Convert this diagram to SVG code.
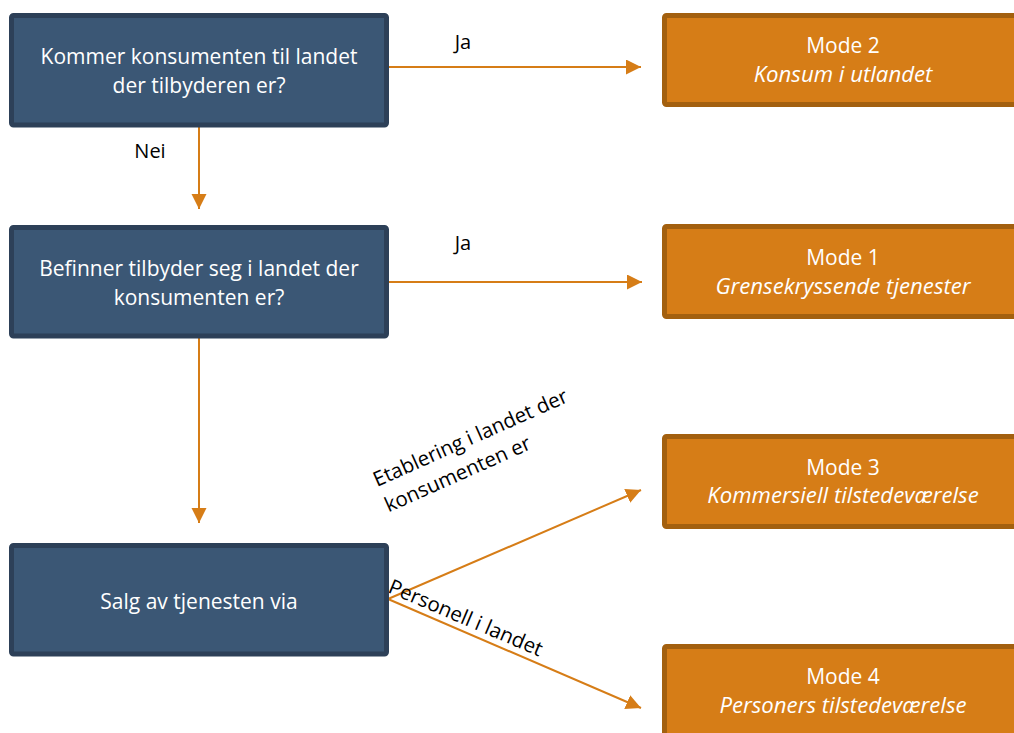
<svg xmlns="http://www.w3.org/2000/svg" width="1014" height="733" viewBox="0 0 1014 733">
<defs>
<style>
.q rect{fill:#3b5775;stroke:#2d4058;stroke-width:5}
.m rect{fill:#d67d17;stroke:#a3600f;stroke-width:5}
.q text,.m text{fill:#ffffff;font-family:"Open Sans","Liberation Sans",sans-serif;font-size:21px;text-anchor:middle}
.m .it{font-style:italic;font-size:22.2px}
.lbl{fill:#000000;font-family:"Open Sans","Liberation Sans",sans-serif;font-size:20px}
.dl{font-size:20.5px}
.c line{stroke:#d67d17;stroke-width:2;fill:none;marker-end:url(#ah)}
</style>
<marker id="ah" markerUnits="userSpaceOnUse" markerWidth="16" markerHeight="16" refX="15" refY="7.5" orient="auto" viewBox="0 0 16 16">
<path d="M0,0 L15,7.5 L0,15 z" fill="#d67d17"/>
</marker>
</defs>
<rect width="1014" height="733" fill="#ffffff"/>

<g id="connectors" class="c">
<line x1="388" y1="67" x2="641" y2="67"/>
<line x1="199" y1="127" x2="199" y2="209"/>
<line x1="389" y1="282" x2="642" y2="282"/>
<line x1="199" y1="338" x2="199" y2="523"/>
<line x1="388" y1="599" x2="641" y2="490"/>
<line x1="388" y1="599" x2="641" y2="708"/>
</g>

<g id="labels">
<text class="lbl" x="463" y="49" text-anchor="middle">Ja</text>
<text class="lbl" x="150" y="158" text-anchor="middle">Nei</text>
<text class="lbl" x="463" y="250" text-anchor="middle">Ja</text>
<g transform="translate(377,487) rotate(-24)">
<text class="lbl dl" x="0" y="0">Etablering i landet der</text>
<text class="lbl dl" x="0" y="28">konsumenten er</text>
</g>
<text class="lbl dl" transform="translate(387,592) rotate(23)">Personell i landet</text>
</g>

<g id="q1" class="q">
<rect x="11.5" y="15.5" width="375" height="109.5" rx="2"/>
<text x="199" y="64">Kommer konsumenten til landet</text>
<text x="199" y="93">der tilbyderen er?</text>
</g>
<g id="q2" class="q">
<rect x="11.5" y="227.5" width="375" height="108.5" rx="2"/>
<text x="199" y="276">Befinner tilbyder seg i landet der</text>
<text x="199" y="305">konsumenten er?</text>
</g>
<g id="q3" class="q">
<rect x="11.5" y="545.5" width="375" height="108.5" rx="2"/>
<text x="199" y="609">Salg av tjenesten via</text>
</g>

<g id="mode2" class="m">
<rect x="664.5" y="15.5" width="362" height="89" rx="2"/>
<text x="843" y="53">Mode 2</text>
<text class="it" x="843" y="82">Konsum i utlandet</text>
</g>
<g id="mode1" class="m">
<rect x="664.5" y="226.5" width="362" height="90" rx="2"/>
<text x="843" y="265">Mode 1</text>
<text class="it" x="843" y="294">Grensekryssende tjenester</text>
</g>
<g id="mode3" class="m">
<rect x="664.5" y="436.5" width="362" height="90" rx="2"/>
<text x="843" y="475">Mode 3</text>
<text class="it" x="843" y="503">Kommersiell tilstedeværelse</text>
</g>
<g id="mode4" class="m">
<rect x="664.5" y="646.5" width="362" height="95" rx="2"/>
<text x="843" y="684">Mode 4</text>
<text class="it" x="843" y="713">Personers tilstedeværelse</text>
</g>
</svg>
